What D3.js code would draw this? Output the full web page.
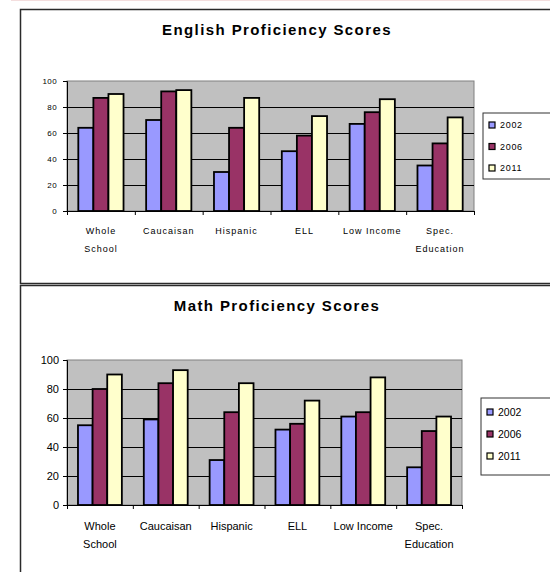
<!DOCTYPE html>
<html>
<head>
<meta charset="utf-8">
<script src="https://cdn.jsdelivr.net/npm/d3@7"></script>
<style>
  body { margin: 0; background: #fff; }
  svg { display: block; font-family: Arial, "Liberation Sans", sans-serif; }
</style>
</head>
<body>
<div id="chart"></div>
<script>
// data
var categories = ["Whole School", "Caucaisan", "Hispanic", "ELL", "Low Income", "Spec. Education"];
var categoryLines = [["Whole", "School"], ["Caucaisan"], ["Hispanic"], ["ELL"], ["Low Income"], ["Spec.", "Education"]];
var years = ["2002", "2006", "2011"];
var yTicks = [0, 20, 40, 60, 80, 100];

var english2002 = [64, 70, 30, 46, 67, 35];
var english2006 = [87, 92, 64, 58, 76, 52];
var english2011 = [90, 93, 87, 73, 86, 72];

var math2002 = [55, 59, 31, 52, 61, 26];
var math2006 = [80, 84, 64, 56, 64, 51];
var math2011 = [90, 93, 84, 72, 88, 61];

var seriesColors = ["#9999ff", "#993366", "#ffffcc"];

var svg = d3.select("#chart").append("svg")
    .attr("width", 550)
    .attr("height", 572);

// faint strip left over at the top of the page
svg.append("rect")
    .attr("x", 11).attr("y", 0)
    .attr("width", 539).attr("height", 1)
    .style("fill", "#f4dede");

function drawChart(opts) {
    var g = svg.append("g");

    // outer chart frame
    g.append("rect")
        .attr("x", opts.frame.x).attr("y", opts.frame.y)
        .attr("width", opts.frame.w).attr("height", opts.frame.h)
        .style("fill", "#fff")
        .style("stroke", "#2a2a2a")
        .style("stroke-width", 1.5);

    g.append("text")
        .attr("x", opts.titleX).attr("y", opts.titleY)
        .attr("text-anchor", "middle")
        .style("font-size", "15px")
        .style("font-weight", "bold")
        .style("letter-spacing", "1.4px")
        .text(opts.title);

    var p = opts.plot;
    var x0 = d3.scaleBand().domain(categories).range([p.x, p.x + p.w]).padding(0);
    var cat = x0.bandwidth();
    var gap = cat * 1.5 / 4.5;
    var x1 = d3.scaleBand().domain(years).range([gap / 2, cat - gap / 2]).padding(0);
    var y = d3.scaleLinear().domain([0, 100]).range([p.y + p.h, p.y]);

    // plot area
    g.append("rect")
        .attr("x", p.x).attr("y", p.y)
        .attr("width", p.w).attr("height", p.h)
        .style("fill", "#c0c0c0")
        .style("stroke", "#808080")
        .style("stroke-width", 1);

    // gridlines
    g.append("g").selectAll("line")
        .data(yTicks.filter(function(d) { return d > 0 && d < 100; }))
        .enter().append("line")
        .attr("x1", p.x).attr("x2", p.x + p.w)
        .attr("y1", function(d) { return Math.round(y(d)) + 0.5; })
        .attr("y2", function(d) { return Math.round(y(d)) + 0.5; })
        .style("stroke", "#000")
        .style("stroke-width", 1);

    // bars
    var series = opts.values.map(function(vals, i) {
        return { year: years[i], color: seriesColors[i], values: vals };
    });
    series.forEach(function(s) {
        g.append("g").selectAll("rect")
            .data(s.values)
            .enter().append("rect")
            .attr("x", function(d, i) { return x0(categories[i]) + x1(s.year); })
            .attr("y", function(d) { return y(d); })
            .attr("width", x1.bandwidth())
            .attr("height", function(d) { return y(0) - y(d); })
            .style("fill", s.color)
            .style("stroke", "#000")
            .style("stroke-width", 1.8);
    });

    // y axis
    var yAxis = g.append("g")
        .attr("transform", "translate(" + p.x + ",0)")
        .call(d3.axisLeft(y).tickValues(yTicks).tickSize(4).tickPadding(opts.tickPad));
    yAxis.select(".domain").style("stroke", "#000");
    yAxis.selectAll("line").style("stroke", "#000");
    yAxis.selectAll("text")
        .style("font-size", opts.tickFont)
        .style("letter-spacing", opts.tickSpacing)
        .style("fill", "#000")
        .attr("font-family", null);

    // x axis with ticks at category boundaries
    var xi = d3.scaleLinear().domain([0, categories.length]).range([p.x, p.x + p.w]);
    var xAxis = g.append("g")
        .attr("transform", "translate(0," + (p.y + p.h) + ")")
        .call(d3.axisBottom(xi).tickValues(d3.range(categories.length + 1)).tickSize(4).tickFormat(""));
    xAxis.select(".domain").style("stroke", "#000");
    xAxis.selectAll("line").style("stroke", "#000");

    // category labels
    var labels = g.append("g").selectAll("text")
        .data(categoryLines)
        .enter().append("text")
        .attr("text-anchor", "middle")
        .style("font-size", opts.catFont)
        .style("letter-spacing", opts.catSpacing)
        .attr("transform", function(d, i) {
            return "translate(" + (x0(categories[i]) + cat / 2) + "," + (p.y + p.h + opts.catDy) + ")";
        });
    labels.selectAll("tspan")
        .data(function(d) { return d; })
        .enter().append("tspan")
        .attr("x", 0)
        .attr("y", function(d, i) { return i * 18; })
        .text(function(d) { return d; });

    // legend
    var L = opts.legend;
    g.append("rect")
        .attr("x", L.x).attr("y", L.y)
        .attr("width", 100).attr("height", L.h)
        .style("fill", "#fff")
        .style("stroke", "#333")
        .style("stroke-width", 1);
    var items = g.append("g").selectAll("g")
        .data(series)
        .enter().append("g")
        .attr("transform", function(d, i) { return "translate(" + (L.x + 6) + "," + L.rows[i] + ")"; });
    items.append("rect")
        .attr("x", 0).attr("y", -3)
        .attr("width", 6).attr("height", 6)
        .style("fill", function(d) { return d.color; })
        .style("stroke", "#000")
        .style("stroke-width", 1.2);
    items.append("text")
        .attr("x", L.textDx)
        .attr("dy", "0.35em")
        .style("font-size", L.font)
        .style("letter-spacing", L.spacing)
        .text(function(d) { return d.year; });
}

drawChart({
    title: "English Proficiency Scores",
    titleX: 277, titleY: 35,
    frame: { x: 20.5, y: 9.5, w: 545, h: 274 },
    plot: { x: 67, y: 81, w: 407, h: 130 },
    values: [english2002, english2006, english2011],
    tickFont: "8px", tickSpacing: "0.4px", tickPad: 6,
    catFont: "9px", catSpacing: "1px", catDy: 23,
    legend: { x: 483, y: 113, h: 66, rows: [125, 146.5, 168], textDx: 11, font: "9px", spacing: "0.7px" }
});

drawChart({
    title: "Math Proficiency Scores",
    titleX: 277, titleY: 311,
    frame: { x: 20.5, y: 285.5, w: 545, h: 300 },
    plot: { x: 67, y: 360, w: 395, h: 145 },
    values: [math2002, math2006, math2011],
    tickFont: "11px", tickSpacing: "0px", tickPad: 4,
    catFont: "11px", catSpacing: "0px", catDy: 25,
    legend: { x: 481, y: 398, h: 77, rows: [412, 434, 456], textDx: 11, font: "10.5px", spacing: "0px" }
});
</script>
</body>
</html>
